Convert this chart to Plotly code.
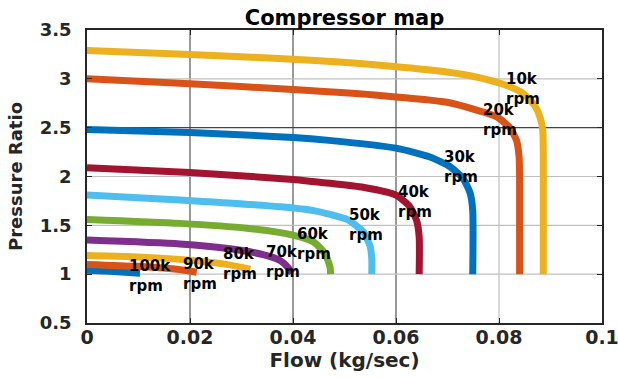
import plotly.graph_objects as go

# ---- data ----
speed_labels = ["100k<br>rpm", "90k<br>rpm", "80k<br>rpm", "70k<br>rpm", "60k<br>rpm",
                "50k<br>rpm", "40k<br>rpm", "30k<br>rpm", "20k<br>rpm", "10k<br>rpm"]

flow_100k = [0, 0.0045, 0.0103]
pr_100k = [1.04, 1.03, 1.01]

flow_90k = [0, 0.0097, 0.0174, 0.0213]
pr_90k = [1.10, 1.08, 1.05, 1.02]

flow_80k = [0, 0.0077, 0.0206, 0.0271, 0.0317]
pr_80k = [1.19, 1.18, 1.14, 1.10, 1.05]

flow_70k = [0, 0.018, 0.0278, 0.0342, 0.0375, 0.039, 0.0398]
pr_70k = [1.35, 1.31, 1.26, 1.20, 1.14, 1.07, 1.01]

flow_60k = [0, 0.018, 0.031, 0.040, 0.044, 0.0462, 0.0472, 0.0473]
pr_60k = [1.56, 1.52, 1.47, 1.40, 1.33, 1.21, 1.07, 1.0]

flow_50k = [0, 0.018, 0.0375, 0.044, 0.0505, 0.0537, 0.055, 0.0553, 0.0553]
pr_50k = [1.81, 1.76, 1.69, 1.65, 1.56, 1.43, 1.28, 1.15, 1.0]

flow_40k = [0, 0.02, 0.04, 0.0472, 0.0536, 0.060, 0.0627, 0.064, 0.0645, 0.0645]
pr_40k = [2.09, 2.04, 1.97, 1.93, 1.89, 1.81, 1.69, 1.55, 1.38, 1.0]

flow_30k = [0, 0.02, 0.04, 0.047, 0.060, 0.0666, 0.0705, 0.073, 0.0744, 0.0749, 0.0749]
pr_30k = [2.48, 2.45, 2.40, 2.37, 2.29, 2.20, 2.10, 1.98, 1.83, 1.65, 1.0]

flow_20k = [0, 0.02, 0.04, 0.0569, 0.0699, 0.0763, 0.0796, 0.0821, 0.0834, 0.0839, 0.0840, 0.0840]
pr_20k = [3.0, 2.95, 2.89, 2.83, 2.76, 2.67, 2.61, 2.50, 2.37, 2.20, 2.00, 1.0]

flow_10k = [0, 0.02, 0.04, 0.0569, 0.0699, 0.0763, 0.0816, 0.0847, 0.087, 0.088, 0.0885, 0.0886, 0.0886]
pr_10k = [3.29, 3.25, 3.20, 3.14, 3.07, 3.01, 2.93, 2.85, 2.72, 2.60, 2.47, 2.20, 1.0]

# label anchor positions (flow, pressure ratio)
label_flow = [0.0080, 0.0184, 0.0262, 0.0346, 0.0406, 0.0507, 0.0602, 0.0691, 0.0767, 0.0812]
label_pr = [0.98, 1.00, 1.10, 1.12, 1.31, 1.50, 1.74, 2.10, 2.575, 2.90]

x_ticks = [0, 0.02, 0.04, 0.06, 0.08, 0.1]
x_ticktext = ["0", "0.02", "0.04", "0.06", "0.08", "0.1"]
y_ticks = [0.5, 1, 1.5, 2, 2.5, 3, 3.5]
y_ticktext = ["0.5", "1", "1.5", "2", "2.5", "3", "3.5"]

colors = ["#0072BD", "#D95319", "#EDB120", "#7E2F8E", "#77AC30",
          "#4DBEEE", "#A2142F", "#0072BD", "#D95319", "#EDB120"]

curves = [(flow_100k, pr_100k), (flow_90k, pr_90k), (flow_80k, pr_80k),
          (flow_70k, pr_70k), (flow_60k, pr_60k), (flow_50k, pr_50k),
          (flow_40k, pr_40k), (flow_30k, pr_30k), (flow_20k, pr_20k),
          (flow_10k, pr_10k)]

FONT = "DejaVu Sans"
AX = "#262626"

fig = go.Figure()
for (fx, py), c in zip(curves, colors):
    fig.add_trace(go.Scatter(x=fx, y=py, mode="lines",
                             line=dict(color=c, width=7, shape="spline", smoothing=0.6),
                             showlegend=False, hoverinfo="skip"))

for t, fx, py in zip(speed_labels, label_flow, label_pr):
    fig.add_annotation(x=fx, y=py, text=t, showarrow=False, xanchor="left", yanchor="middle",
                       align="left", font=dict(family=FONT, size=15, color="black", weight="bold"),
                       borderpad=0)

# grid lines
dark_x = {0.02, 0.04, 0.06}
for xv in x_ticks[1:-1]:
    fig.add_shape(type="line", x0=xv, x1=xv, y0=0.5, y1=3.5, layer="below",
                  line=dict(color="#555555" if xv in dark_x else "#c0c0c0", width=1.2))
for yv in y_ticks[1:-1]:
    fig.add_shape(type="line", x0=0, x1=0.1, y0=yv, y1=yv, layer="below",
                  line=dict(color="#444444" if yv == 2.5 else "#c0c0c0", width=1.2))

fig.update_layout(
    width=618, height=378,
    margin=dict(l=87, r=16, t=30, b=55),
    paper_bgcolor="white", plot_bgcolor="white",
    title=dict(text="Compressor map", x=0.5, xanchor="center", xref="paper",
               y=1 - 18 / 378, yref="container", yanchor="middle",
               font=dict(family=FONT, size=21, color="black", weight="bold")),
    xaxis=dict(range=[0, 0.1], tickvals=x_ticks, ticktext=x_ticktext, showgrid=False,
               zeroline=False, showline=True, linecolor=AX, linewidth=1.5, mirror="ticks",
               ticks="inside", ticklen=5, tickcolor=AX, automargin=False,
               ticklabelstandoff=-4, ticklabeloverflow="allow",
               tickfont=dict(family=FONT, size=19, color=AX, weight="bold"),
               title=dict(text="Flow (kg/sec)",
                          font=dict(family=FONT, size=20, color=AX, weight="bold"),
                          standoff=0)),
    yaxis=dict(range=[0.5, 3.5], tickvals=y_ticks, ticktext=y_ticktext, showgrid=False,
               zeroline=False, showline=True, linecolor=AX, linewidth=1.5, mirror="ticks",
               ticks="inside", ticklen=5, tickcolor=AX, automargin=False,
               ticklabelstandoff=10, ticklabeloverflow="allow",
               tickfont=dict(family=FONT, size=18, color=AX, weight="bold"),
               title=dict(text="Pressure Ratio",
                          font=dict(family=FONT, size=18, color=AX, weight="bold"),
                          standoff=12)),
)

fig.write_html("out.html", config={"displayModeBar": False},
               post_script="document.body.style.margin='0';")
